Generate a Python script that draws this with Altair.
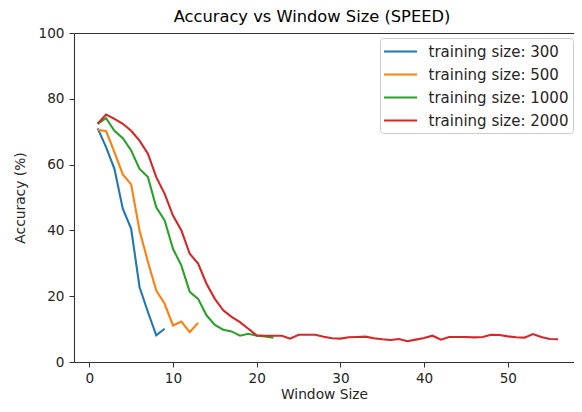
import altair as alt
import pandas as pd

series_names = ["training size: 300", "training size: 500", "training size: 1000", "training size: 2000"]
colors = ["#1f77b4", "#ff7f0e", "#2ca02c", "#d62728"]

acc_300 = [71.0, 65.3, 58.7, 46.6, 40.5, 22.8, 15.2, 8.1, 10.1]
acc_500 = [70.5, 70.2, 63.8, 57.0, 54.0, 40.0, 30.5, 21.7, 17.7, 11.1, 12.3, 9.1, 11.9]
acc_1000 = [72.4, 74.1, 70.3, 68.0, 64.3, 58.7, 56.2, 47.0, 43.0, 34.4, 29.3, 21.3,
            19.2, 14.2, 11.3, 9.8, 9.3, 8.0, 8.6, 8.0, 7.8, 7.4]
acc_2000 = [72.4, 75.2, 73.9, 72.4, 70.3, 67.3, 63.3, 56.2, 51.1, 44.5, 40.0, 32.9,
            29.9, 23.8, 19.2, 15.7, 13.7, 12.1, 10.1, 8.1, 8.0, 8.0, 8.0, 7.1,
            8.3, 8.3, 8.3, 7.7, 7.2, 7.1, 7.5, 7.6, 7.7, 7.2, 6.9, 6.7,
            7.0, 6.3, 6.8, 7.3, 8.0, 6.8, 7.6, 7.6, 7.6, 7.5, 7.6, 8.3,
            8.2, 7.8, 7.5, 7.4, 8.5, 7.6, 7.0, 6.9]

x_ticks = [0, 10, 20, 30, 40, 50]
y_ticks = [0, 20, 40, 60, 80, 100]

rows = []
for name, vals in zip(series_names, [acc_300, acc_500, acc_1000, acc_2000]):
    for i, v in enumerate(vals):
        rows.append({"series": name, "window": i + 1, "acc": v})
df = pd.DataFrame(rows)

FONT = "DejaVu Sans"
AX = "#333333"

xs = alt.Scale(domain=[-1.83, 57.91], nice=False, zero=False)
ys = alt.Scale(domain=[0, 100], nice=False)

lines = alt.Chart(df).mark_line(strokeWidth=2.1).encode(
    x=alt.X("window:Q", title="Window Size", scale=xs,
            axis=alt.Axis(values=x_ticks, grid=False, tickSize=5, labelPadding=4,
                          titlePadding=3, labelFontSize=13.6, titleFontSize=13.8,
                          labelColor="#262626", titleColor="#262626",
                          titleFontWeight="normal", domainColor=AX, tickColor=AX,
                          domainWidth=1.1, labelFlush=False)),
    y=alt.Y("acc:Q", title="Accuracy (%)", scale=ys,
            axis=alt.Axis(values=y_ticks, grid=False, tickSize=5, labelPadding=5,
                          titlePadding=11, labelFontSize=13.6, titleFontSize=13.8,
                          labelColor="#262626", titleColor="#262626",
                          titleFontWeight="normal", domainColor=AX, tickColor=AX,
                          domainWidth=1.1, labelFlush=False)),
    color=alt.Color("series:N", sort=series_names,
                    scale=alt.Scale(domain=series_names, range=colors),
                    legend=alt.Legend(title=None, orient="none", legendX=306, legendY=5,
                                      symbolType="M-2.2,0H2.2", symbolSize=225,
                                      symbolStrokeWidth=2.1, symbolOffset=7,
                                      labelFontSize=15, labelColor="#262626",
                                      labelOffset=19, rowPadding=6, padding=4.5,
                                      strokeColor="#cccccc", fillColor="white",
                                      cornerRadius=3)),
    detail="series:N",
)

top_spine = alt.Chart(df).mark_line(opacity=0).encode(
    x=alt.X("window:Q", scale=xs,
            axis=alt.Axis(orient="top", labels=False, ticks=False, title=None,
                          grid=False, domainColor=AX, domainWidth=1.1)),
    y=alt.Y("acc:Q", scale=ys, axis=None),
    detail="series:N",
)

chart = alt.layer(lines, top_spine).resolve_axis(
    x="independent", y="independent"
).properties(
    width=500, height=329,
    title=alt.Title("Accuracy vs Window Size (SPEED)", fontSize=16.3,
                    fontWeight="normal", color="#000", offset=1, dx=-12, font=FONT),
    padding={"left": 5, "top": 0, "right": 0, "bottom": 0},
).configure(font=FONT).configure_view(stroke=None)

chart.save("out.html", embed_options={"renderer": "svg", "actions": False})
